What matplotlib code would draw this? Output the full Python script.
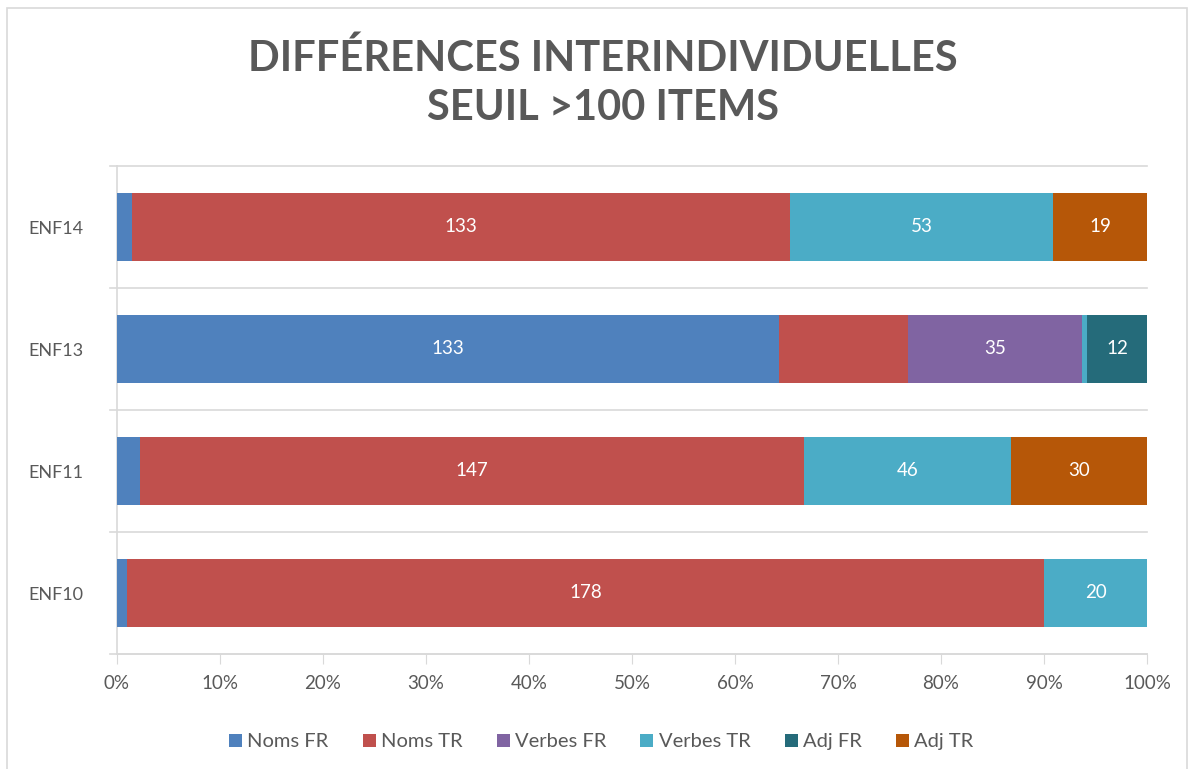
import numpy as np
import matplotlib.pyplot as plt
from matplotlib.patches import Rectangle

plt.rcParams['font.family'] = ['Lato', 'DejaVu Sans']

# counts per child (shown as 100% stacked)
children   = ['ENF10', 'ENF11', 'ENF13', 'ENF14']
noms_fr    = [2, 5, 133, 3]
noms_tr    = [178, 147, 26, 133]
verbes_fr  = [0, 0, 35, 0]
verbes_tr  = [20, 46, 1, 53]
adj_fr     = [0, 0, 12, 0]
adj_tr     = [0, 30, 0, 19]

series_names  = ['Noms FR', 'Noms TR', 'Verbes FR', 'Verbes TR', 'Adj FR', 'Adj TR']
series_colors = ['#4F81BD', '#C0504D', '#8064A2', '#4BACC6', '#256B7A', '#B65708']
# which segments carry a value label in the original (series, child)
labelled = {('Noms FR', 'ENF13'), ('Noms TR', 'ENF14'), ('Noms TR', 'ENF11'),
            ('Noms TR', 'ENF10'), ('Verbes FR', 'ENF13'), ('Verbes TR', 'ENF14'),
            ('Verbes TR', 'ENF11'), ('Verbes TR', 'ENF10'), ('Adj FR', 'ENF13'),
            ('Adj TR', 'ENF14'), ('Adj TR', 'ENF11')}


def main():
    data = np.array([noms_fr, noms_tr, verbes_fr, verbes_tr, adj_fr, adj_tr], dtype=float)
    totals = data.sum(axis=0)
    pct = data / totals

    fig = plt.figure(figsize=(11.92, 7.69), dpi=100)
    ax = fig.add_axes([117 / 1192, 1 - 654 / 769, 1030 / 1192, 488 / 769])

    # chart border
    fig.patches.append(Rectangle((7 / 1192, -0.01), 1180 / 1192, 1 - 8 / 769 + 0.01,
                                 transform=fig.transFigure, fill=False,
                                 edgecolor='#D9D9D9', linewidth=1.2))

    y = np.arange(len(children))
    left = np.zeros(len(children))
    for vals, p, name, color in zip(data, pct, series_names, series_colors):
        ax.barh(y, p, left=left, height=0.56, color=color, label=name, zorder=3)
        for yi, (v, pi, li) in enumerate(zip(vals, p, left)):
            if (name, children[yi]) in labelled:
                ax.text(li + pi / 2, yi, f'{int(v)}', ha='center', va='center',
                        color='white', fontsize=13.5, zorder=4)
        left += p

    ax.set_xlim(0, 1)
    ax.set_ylim(-0.5, len(children) - 0.5)
    ax.set_xticks(np.linspace(0, 1, 11))
    ax.set_xticklabels([f'{int(t)}%' for t in np.arange(0, 101, 10)],
                       fontsize=13.5, color='#595959')
    ax.set_yticks(y)
    ax.set_yticklabels(children, fontsize=13, color='#595959')
    ax.tick_params(axis='y', length=0, pad=24)
    ax.tick_params(axis='x', length=7, color='#D9D9D9', pad=8)

    # category separators
    for b in np.arange(-0.5, len(children), 1.0):
        ax.plot([-0.007, 1], [b, b], color='#D9D9D9', lw=1.2,
                clip_on=False, zorder=1)

    for s in ['top', 'right']:
        ax.spines[s].set_visible(False)
    ax.spines['left'].set_color('#D9D9D9')
    ax.spines['bottom'].set_color('#D9D9D9')
    ax.spines['left'].set_linewidth(1.2)
    ax.spines['bottom'].set_linewidth(1.2)

    fig.text(0.506, 1 - 58 / 769, 'DIFFÉRENCES INTERINDIVIDUELLES', ha='center',
             va='center', fontsize=30, fontweight='bold', color='#595959')
    fig.text(0.506, 1 - 108 / 769, 'SEUIL >100 ITEMS', ha='center',
             va='center', fontsize=30, fontweight='bold', color='#595959')

    ax.legend(loc='center', bbox_to_anchor=(0.47, -0.18), ncol=6, frameon=False,
              fontsize=14.5, handlelength=0.65, handleheight=0.65, handletextpad=0.25,
              columnspacing=1.7, labelcolor='#595959')

    plt.savefig('out.png', dpi=100)
    plt.close()


if __name__ == "__main__":
    main()
